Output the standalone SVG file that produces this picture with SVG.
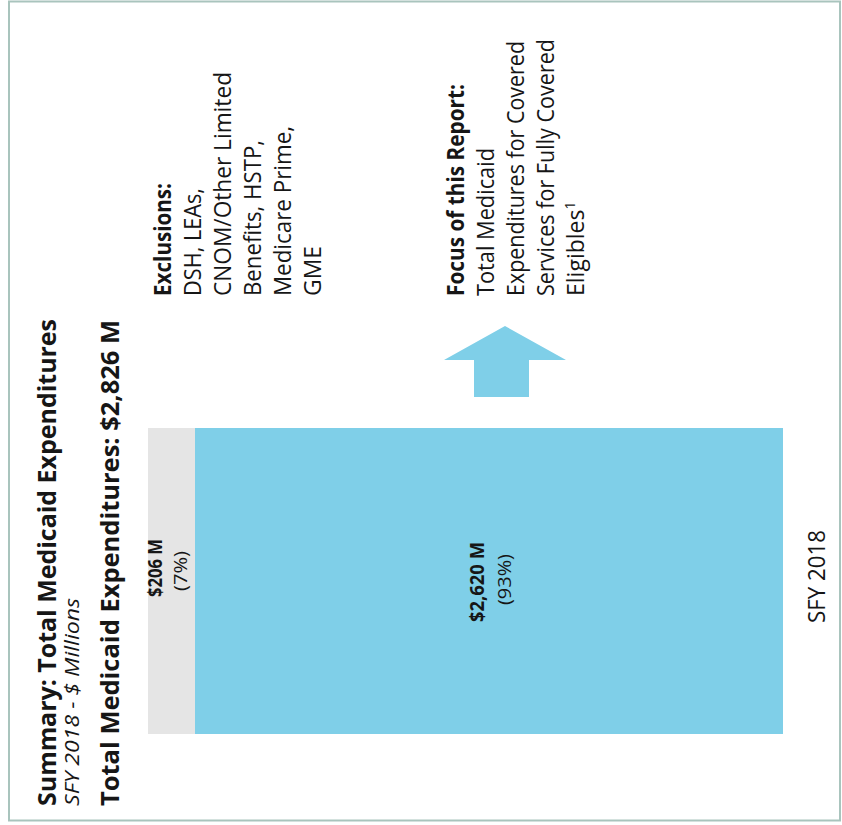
<svg xmlns="http://www.w3.org/2000/svg" width="842" height="825" viewBox="0 0 842 825">
<style>
  text { font-family: "Open Sans", "Noto Sans", "Liberation Sans", sans-serif; fill: #161616; }
  .title { font-size: 25.5px; font-weight: bold; }
  .sub { font-size: 19.5px; font-style: italic; }
  .body { font-size: 23px; }
  .bold { font-weight: bold; }
  .lbl { font-size: 19px; }
  .frame { fill: #ffffff; stroke: #a9c4bd; stroke-width: 2; }
  .blue { fill: #7fcfe8; }
  .gray { fill: #e5e5e5; }
</style>
<rect width="842" height="825" fill="#ffffff"/>
<g id="frame">
  <rect class="frame" x="9" y="1.5" width="831" height="819"/>
</g>
<g id="title">
  <text class="title" transform="translate(56,806) rotate(-90)" textLength="487" lengthAdjust="spacingAndGlyphs">Summary:  Total Medicaid Expenditures</text>
  <text class="sub" transform="translate(79,806) rotate(-90)" textLength="208" lengthAdjust="spacingAndGlyphs">SFY 2018 - $ Millions</text>
  <text class="title" transform="translate(119,806) rotate(-90)" textLength="486" lengthAdjust="spacingAndGlyphs">Total Medicaid Expenditures: $2,826 M</text>
</g>
<g id="bar-exclusions">
  <rect class="gray" x="148" y="428" width="47" height="306"/>
  <text class="lbl bold" transform="translate(162,597) rotate(-90)" textLength="58" lengthAdjust="spacingAndGlyphs">$206 M</text>
  <text class="lbl" transform="translate(187,591) rotate(-90)" textLength="40" lengthAdjust="spacingAndGlyphs">(7%)</text>
</g>
<g id="bar-focus">
  <rect class="blue" x="195" y="428" width="588" height="306"/>
  <text class="lbl bold" transform="translate(484,622) rotate(-90)" textLength="80" lengthAdjust="spacingAndGlyphs">$2,620 M</text>
  <text class="lbl" transform="translate(511,605) rotate(-90)" textLength="51" lengthAdjust="spacingAndGlyphs">(93%)</text>
</g>
<g id="connectors">
  <polygon class="blue" points="505,326 566,360 529,360 529,397 474,397 474,360 444,360"/>
</g>
<g id="exclusions">
  <text class="body bold" transform="translate(171,296) rotate(-90)" textLength="113" lengthAdjust="spacingAndGlyphs">Exclusions:</text>
  <text class="body" transform="translate(201,296) rotate(-90)" textLength="108" lengthAdjust="spacingAndGlyphs">DSH, LEAs,</text>
  <text class="body" transform="translate(231,296) rotate(-90)" textLength="224" lengthAdjust="spacingAndGlyphs">CNOM/Other Limited</text>
  <text class="body" transform="translate(261,296) rotate(-90)" textLength="156" lengthAdjust="spacingAndGlyphs">Benefits, HSTP,</text>
  <text class="body" transform="translate(291,296) rotate(-90)" textLength="170" lengthAdjust="spacingAndGlyphs">Medicare Prime,</text>
  <text class="body" transform="translate(321,296) rotate(-90)" textLength="50" lengthAdjust="spacingAndGlyphs">GME</text>
</g>
<g id="focus">
  <text class="body bold" transform="translate(464,296) rotate(-90)" textLength="212" lengthAdjust="spacingAndGlyphs">Focus of this Report:</text>
  <text class="body" transform="translate(494,296) rotate(-90)" textLength="148" lengthAdjust="spacingAndGlyphs">Total Medicaid</text>
  <text class="body" transform="translate(524,296) rotate(-90)" textLength="255" lengthAdjust="spacingAndGlyphs">Expenditures for Covered</text>
  <text class="body" transform="translate(554,296) rotate(-90)" textLength="257" lengthAdjust="spacingAndGlyphs">Services for Fully Covered</text>
  <text class="body" transform="translate(584,296) rotate(-90)">Eligibles<tspan font-size="14" dy="-9">1</tspan></text>
</g>
<g id="axis-label">
  <text class="body" transform="translate(825,623) rotate(-90)" textLength="93" lengthAdjust="spacingAndGlyphs">SFY 2018</text>
</g>
</svg>
